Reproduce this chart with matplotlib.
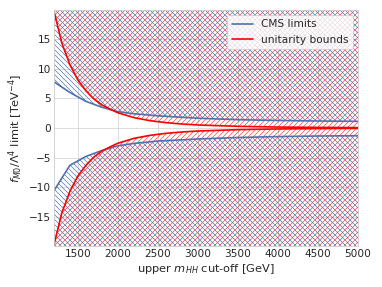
import numpy as np
import matplotlib
matplotlib.use('Agg')
import matplotlib.pyplot as plt

plt.style.use('seaborn-v0_8-whitegrid')
matplotlib.rcParams.update({'font.family': 'DejaVu Sans', 'axes.labelsize': 13.7,
                            'xtick.labelsize': 12.6, 'ytick.labelsize': 12.6,
                            'legend.fontsize': 12.6, 'hatch.linewidth': 0.8})

# CMS limits on f_M0/Lambda^4 vs upper m_HH cut-off
mass_cms = [1200, 1400, 1600, 1800, 2000, 2200, 2500, 3000, 3500, 4000, 4500, 5000]
cms_upper = [7.8, 6.0, 4.5, 3.5, 2.75, 2.4, 2.05, 1.65, 1.4, 1.27, 1.18, 1.12]
cms_lower = [-10.6, -6.3, -4.8, -3.8, -3.0, -2.6, -2.2, -1.85, -1.6, -1.45, -1.35, -1.3]

# unitarity bounds
mass_unit = [1200, 1300, 1400, 1500, 1600, 1700, 1800, 1900, 2000, 2200, 2400,
             2600, 2800, 3000, 3500, 4000, 4500, 5000]
unit_bound = [19.8, 14.3, 10.7, 8.1, 6.3, 4.9, 3.9, 3.2, 2.57, 1.75, 1.24,
              0.9, 0.67, 0.51, 0.28, 0.16, 0.1, 0.066]

blue = '#4C72B0'
red = '#FF0000'
ymax = 19.9

mass_cms = np.array(mass_cms)
mass_unit = np.array(mass_unit)
unit_bound = np.array(unit_bound)

fig = plt.figure(figsize=(382/60, 287/60), dpi=60)
ax = fig.add_axes([0.141, 0.143, 0.796, 0.822])

#excluded regions
ax.fill_between(mass_unit, unit_bound, 30, facecolor='none', edgecolor=red, hatch='/'*4, lw=0, alpha=0.75)
ax.fill_between(mass_unit, -unit_bound, -30, facecolor='none', edgecolor=red, hatch='/'*4, lw=0, alpha=0.75)
ax.fill_between(mass_cms, cms_upper, 30, facecolor='none', edgecolor=blue, hatch='\\'*4, lw=0)
ax.fill_between(mass_cms, cms_lower, -30, facecolor='none', edgecolor=blue, hatch='\\'*4, lw=0)

ax.plot(mass_cms, cms_upper, color=blue, lw=2, label='CMS limits')
ax.plot(mass_cms, cms_lower, color=blue, lw=2)
ax.plot(mass_unit, unit_bound, color=red, lw=2, label='unitarity bounds')
ax.plot(mass_unit, -unit_bound, color=red, lw=2)

ax.set_xlim(1200, 5000)
ax.set_ylim(-ymax, ymax)
ax.set_yticks([-15, -10, -5, 0, 5, 10, 15])
ax.set_xlabel('upper $m_{HH}$ cut-off [GeV]')
ax.set_ylabel('$f_{M0}/\\Lambda^4$ limit [TeV$^{-4}$]')
ax.legend(loc='upper right', frameon=True)

fig.savefig('out.png', dpi=60)
